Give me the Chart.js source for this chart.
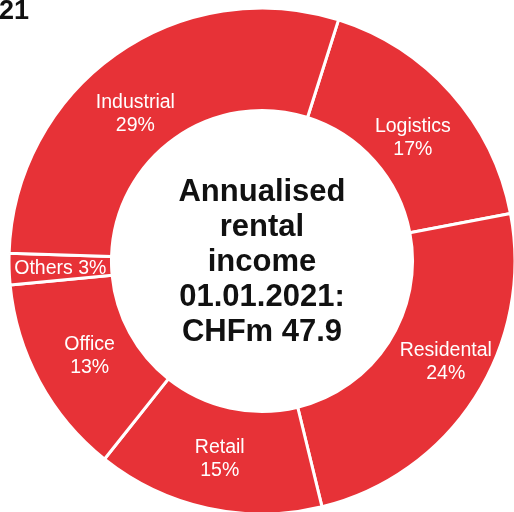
<!DOCTYPE html>
<html>
<head>
<meta charset="utf-8">
<script src="https://cdn.jsdelivr.net/npm/chart.js@4/dist/chart.umd.min.js"></script>
<style>
html,body{margin:0;padding:0;background:#fff;}
#wrap{position:relative;width:514px;height:512px;}
</style>
</head>
<body>
<div id="wrap"><canvas id="c" width="514" height="512"></canvas></div>
<script>
const categories = ["Logistics", "Residental", "Retail", "Office", "Others", "Industrial"];
// arc shares (percent of the ring)
const values = [17.1, 24.2, 14.5, 12.8, 2.0, 29.4];
// percentages printed on the chart
const pctLabels = ["17%", "24%", "15%", "13%", "3%", "29%"];
const centerLines = ["Annualised", "rental", "income", "01.01.2021:", "CHFm 47.9"];
const titleText = "21";

const RED = "rgb(231,50,55)";
const FONT = '"Liberation Sans", Arial, Helvetica, sans-serif';
// small label nudges (styling only), in px, per slice order
const labelNudge = [[0, 11], [14, -8], [1, 1], [5, -2], [0, 1], [-10, 17]];

const labelPlugin = {
  id: 'labels',
  afterDatasetsDraw(chart) {
    const ctx = chart.ctx;
    const meta = chart.getDatasetMeta(0);
    ctx.save();
    ctx.fillStyle = '#fff';
    ctx.textAlign = 'center';
    ctx.textBaseline = 'middle';
    ctx.font = '19.5px ' + FONT;
    meta.data.forEach((arc, i) => {
      const p = arc.tooltipPosition();
      const x = p.x + labelNudge[i][0], y = p.y + labelNudge[i][1];
      const span = (arc.endAngle - arc.startAngle) * 180 / Math.PI;
      const name = categories[i];
      const pct = pctLabels[i];
      if (span < 20) {
        ctx.fillText(name + ' ' + pct, x, y);
      } else {
        ctx.fillText(name, x, y - 11);
        ctx.fillText(pct, x, y + 12);
      }
    });
    // center text
    const cx = meta.data[0].x, cy = meta.data[0].y;
    ctx.fillStyle = '#111';
    ctx.font = 'bold 31px ' + FONT;
    const lh = 35;
    const n = centerLines.length;
    centerLines.forEach((t, k) => {
      ctx.fillText(t, cx, cy + 1 + (k - (n - 1) / 2) * lh);
    });
    // cropped title
    ctx.textAlign = 'left';
    ctx.textBaseline = 'alphabetic';
    ctx.font = 'bold 27px ' + FONT;
    ctx.fillText(titleText, -1, 19);
    ctx.restore();
  }
};

new Chart(document.getElementById('c'), {
  type: 'doughnut',
  data: {
    labels: categories,
    datasets: [{
      data: values,
      backgroundColor: RED,
      borderColor: '#fff',
      borderWidth: 3,
      hoverOffset: 0
    }]
  },
  options: {
    responsive: false,
    animation: false,
    rotation: 17.6,
    radius: 253,
    cutout: '59.5%',
    layout: { padding: { left: 10, right: 0, top: 10, bottom: 0 } },
    plugins: { legend: { display: false }, tooltip: { enabled: false }, title: { display: false } },
    events: []
  },
  plugins: [labelPlugin]
});
</script>
</body>
</html>
